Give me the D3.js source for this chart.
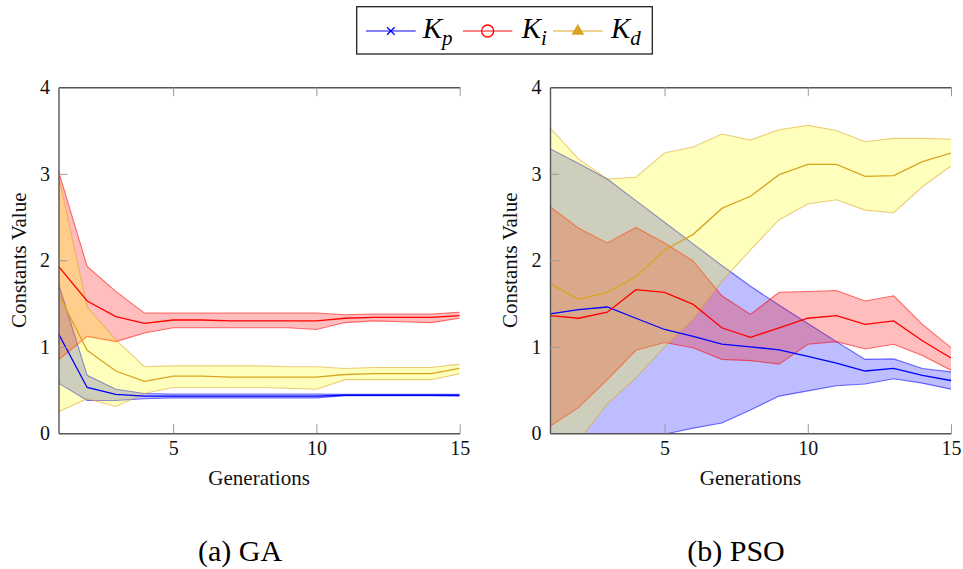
<!DOCTYPE html>
<html><head><meta charset="utf-8">
<script src="https://cdn.jsdelivr.net/npm/d3@7"></script>
<style>
body{margin:0;background:#fff;}
svg{display:block;}
</style></head>
<body>
<svg id="c" width="963" height="569"></svg>
<script>
const generations = d3.range(1, 16);
const xTicks = [5, 10, 15];
const yTicks = [0, 1, 2, 3, 4];

// (a) GA
const gaKpMean  = [1.15,0.53,0.45,0.43,0.43,0.43,0.43,0.43,0.43,0.43,0.44,0.44,0.44,0.44,0.44];
const gaKpUpper = [1.73,0.67,0.51,0.46,0.455,0.455,0.455,0.455,0.455,0.455,0.45,0.45,0.45,0.45,0.45];
const gaKpLower = [0.58,0.38,0.38,0.40,0.41,0.41,0.41,0.41,0.41,0.41,0.435,0.435,0.435,0.435,0.43];
const gaKiMean  = [1.93,1.53,1.35,1.27,1.31,1.31,1.30,1.30,1.30,1.30,1.33,1.34,1.34,1.34,1.36];
const gaKiUpper = [3.03,1.93,1.64,1.39,1.39,1.39,1.39,1.39,1.39,1.39,1.37,1.38,1.38,1.38,1.40];
const gaKiLower = [0.85,1.12,1.06,1.16,1.22,1.22,1.22,1.22,1.22,1.20,1.28,1.30,1.29,1.28,1.33];
const gaKdMean  = [1.61,0.96,0.72,0.60,0.66,0.66,0.65,0.65,0.65,0.65,0.68,0.69,0.69,0.69,0.75];
const gaKdUpper = [2.98,1.46,1.08,0.77,0.78,0.78,0.78,0.78,0.77,0.77,0.75,0.76,0.76,0.76,0.80];
const gaKdLower = [0.25,0.40,0.31,0.46,0.53,0.53,0.53,0.53,0.52,0.51,0.62,0.62,0.62,0.62,0.69];

// (b) PSO
const psoKpMean  = [1.38,1.43,1.46,1.33,1.20,1.12,1.03,1.00,0.965,0.89,0.81,0.72,0.75,0.67,0.61];
const psoKpUpper = [3.29,3.12,2.94,2.69,2.44,2.19,1.94,1.70,1.48,1.27,1.06,0.855,0.86,0.75,0.71];
const psoKpLower = [-0.9,-0.6,-0.35,-0.15,-0.01,0.06,0.12,0.27,0.43,0.49,0.55,0.57,0.63,0.58,0.51];
const psoKiMean  = [1.36,1.33,1.40,1.66,1.63,1.49,1.22,1.11,1.22,1.33,1.36,1.26,1.30,1.07,0.87];
const psoKiUpper = [2.62,2.37,2.20,2.38,2.20,1.99,1.59,1.375,1.63,1.64,1.65,1.53,1.59,1.26,0.99];
const psoKiLower = [0.08,0.30,0.62,0.96,1.05,0.99,0.855,0.84,0.80,1.03,1.06,0.975,1.03,0.90,0.73];
const psoKdMean  = [1.73,1.55,1.63,1.81,2.12,2.30,2.60,2.74,2.99,3.11,3.11,2.97,2.98,3.14,3.24];
const psoKdUpper = [3.53,3.17,2.94,2.96,3.24,3.31,3.46,3.39,3.51,3.56,3.50,3.37,3.41,3.41,3.40];
const psoKdLower = [-0.5,-0.085,0.34,0.64,1.00,1.32,1.76,2.12,2.47,2.65,2.70,2.58,2.55,2.85,3.09];

const seriesNames = ["K_p", "K_i", "K_d"];
const lineColors = ["#0000ff", "#ff0000", "#d9a520"];
const fillColors = ["#0000ff", "#ff0000", "#ffff00"];
const captions = ["(a) GA", "(b) PSO"];

const FONT = "'Liberation Serif', 'Times New Roman', 'DejaVu Serif', serif";

const panels = [
  {left:58.5, right:459.7, caption:captions[0], capX:240,
   series:[[gaKpMean,gaKpUpper,gaKpLower],[gaKiMean,gaKiUpper,gaKiLower],[gaKdMean,gaKdUpper,gaKdLower]]},
  {left:550, right:951, caption:captions[1], capX:736,
   series:[[psoKpMean,psoKpUpper,psoKpLower],[psoKiMean,psoKiUpper,psoKiLower],[psoKdMean,psoKdUpper,psoKdLower]]}
];
const plotTop = 87.3, plotBottom = 433.3;
const svg = d3.select("#c").attr("font-family", FONT);

panels.forEach((p, pi) => {
  const x = d3.scaleLinear().domain([1, 15]).range([p.left, p.right]);
  const y = d3.scaleLinear().domain([0, 4]).range([plotBottom, plotTop]);
  const g = svg.append("g");
  const cid = "clip" + pi;
  svg.append("clipPath").attr("id", cid).append("rect")
    .attr("x", p.left).attr("y", plotTop).attr("width", p.right - p.left).attr("height", plotBottom - plotTop);
  const plot = g.append("g").attr("clip-path", `url(#${cid})`);

  p.series.forEach((s, si) => {
    const [mean, up, lo] = s;
    const rows = generations.map((gen, i) => ({gen, m: mean[i], u: up[i], l: lo[i]}));
    plot.append("path").datum(rows)
      .attr("d", d3.area().x(d => x(d.gen)).y0(d => y(d.l)).y1(d => y(d.u)))
      .attr("fill", fillColors[si]).attr("fill-opacity", 0.26).attr("stroke", "none");
    ["u", "l"].forEach(k => {
      plot.append("path").datum(rows)
        .attr("d", d3.line().x(d => x(d.gen)).y(d => y(d[k])))
        .attr("fill", "none").attr("stroke", lineColors[si]).attr("stroke-opacity", 0.55).attr("stroke-width", 1.1);
    });
  });
  p.series.forEach((s, si) => {
    const rows = generations.map((gen, i) => ({gen, m: s[0][i]}));
    plot.append("path").datum(rows)
      .attr("d", d3.line().x(d => x(d.gen)).y(d => y(d.m)))
      .attr("fill", "none").attr("stroke", lineColors[si]).attr("stroke-width", 1.3);
  });

  const axB = g.append("g").attr("transform", `translate(0,${plotBottom})`)
    .call(d3.axisBottom(x).tickValues(xTicks).tickSizeInner(-9).tickSizeOuter(0).tickPadding(8).tickFormat(d3.format("d")));
  const axT = g.append("g").attr("transform", `translate(0,${plotTop})`)
    .call(d3.axisTop(x).tickValues(xTicks).tickSizeInner(-9).tickSizeOuter(0).tickFormat(""));
  const axL = g.append("g").attr("transform", `translate(${p.left},0)`)
    .call(d3.axisLeft(y).tickValues(yTicks).tickSizeInner(-9).tickSizeOuter(0).tickPadding(8.5).tickFormat(d3.format("d")));
  [axB, axT, axL].forEach(a => {
    a.attr("font-family", FONT).attr("font-size", 20);
    a.select(".domain").attr("stroke", "#555").attr("stroke-width", 1.4);
    a.selectAll(".tick line").attr("stroke", "#999").attr("stroke-width", 1);
    a.selectAll(".tick text").attr("fill", "#111");
  });
  axL.selectAll(".tick").filter(d => d === 0 || d === 4).select("line").remove();

  g.append("text").attr("x", (p.left + p.right) / 2).attr("y", 485).attr("text-anchor", "middle")
    .attr("font-family", FONT).attr("font-size", 21).attr("fill", "#111").text("Generations");
  g.append("text").attr("transform", `translate(${p.left - 33},${(plotTop + plotBottom) / 2}) rotate(-90)`)
    .attr("text-anchor", "middle").attr("font-family", FONT).attr("font-size", 21).attr("fill", "#111").text("Constants Value");
  g.append("text").attr("x", p.capX).attr("y", 561).attr("text-anchor", "middle")
    .attr("font-family", FONT).attr("font-size", 30).attr("fill", "#000").text(p.caption);
});

// legend
const lg = svg.append("g");
lg.append("rect").attr("x", 356.7).attr("y", 6.7).attr("width", 295.6).attr("height", 47.3)
  .attr("fill", "#fff").attr("stroke", "#222").attr("stroke-width", 1.3);
const legendItems = [
  {x0:366, x1:415.7, tx:422.7},
  {x0:463, x1:512.3, tx:521.7},
  {x0:553, x1:602.7, tx:611}
];
legendItems.forEach((it, i) => {
  const ly = 31;
  lg.append("line").attr("x1", it.x0).attr("x2", it.x1).attr("y1", ly).attr("y2", ly)
    .attr("stroke", lineColors[i]).attr("stroke-opacity", 0.65).attr("stroke-width", 1.5);
  const cx = (it.x0 + it.x1) / 2;
  if (i === 0) {
    lg.append("path").attr("d", d3.symbol(d3.symbolX, 40)()).attr("transform", `translate(${cx},${ly})`)
      .attr("stroke", "#0000ff").attr("stroke-width", 1.3).attr("fill", "none");
  } else if (i === 1) {
    lg.append("circle").attr("cx", cx).attr("cy", ly).attr("r", 6)
      .attr("fill", "none").attr("stroke", "#ff0000").attr("stroke-width", 1.3);
  } else {
    lg.append("path").attr("d", d3.symbol(d3.symbolTriangle, 70)()).attr("transform", `translate(${cx},${ly})`)
      .attr("fill", "#d9a520");
  }
  const [base, sub] = seriesNames[i].split("_");
  const t = lg.append("text").attr("x", it.tx).attr("y", 37.7)
    .attr("font-family", FONT).attr("font-size", 29).attr("font-style", "italic").attr("fill", "#000");
  t.append("tspan").text(base);
  t.append("tspan").attr("dy", 7).attr("font-size", 21).text(sub);
});
</script>
</body></html>
